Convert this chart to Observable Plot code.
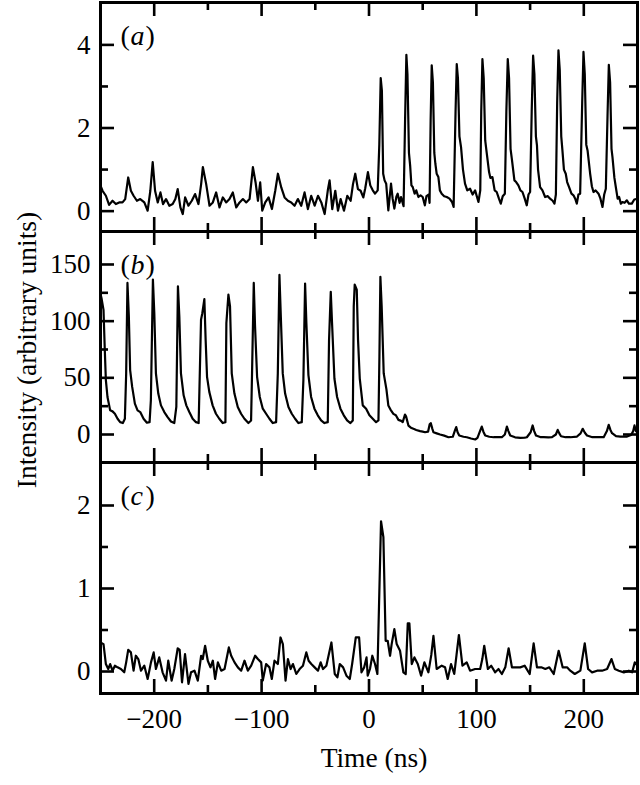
<!DOCTYPE html>
<html><head><meta charset="utf-8">
<script src="https://cdn.jsdelivr.net/npm/d3@7"></script>
<script src="https://cdn.jsdelivr.net/npm/@observablehq/plot@0.6"></script>
<style>
html,body{margin:0;padding:0;background:#fff;}
#chart{position:relative;width:640px;height:785px;font-family:"Liberation Serif","Times New Roman",serif;}
#chart svg{position:absolute;left:0;overflow:visible;}
</style></head><body><div id="chart"></div>
<script>
// ---- shared axis values ----
const timeDomain = [-250, 250];
const timeMajorTicks = [-200, -100, 0, 100, 200];
const timeMinorTicks = [-150, -50, 50, 150];
const xTitle = "Time (ns)";
const yTitle = "Intensity (arbitrary units)";

// ---- panel (a): [time ns, intensity] ----
const seriesA = [
[-250,0.61],[-248.1,0.49],[-245,0.37],[-242,0.15],[-238.8,0.25],[-235.7,0.17],[-232.6,0.21],[-229.5,0.21],[-227,0.29],[-224.2,0.81],[-221.7,0.49],[-219.2,0.37],[-216.1,0.25],[-213,0.29],[-209.2,0.21],[-206.1,0.01],[-203.6,0.49],[-201.4,1.18],[-199.2,0.49],[-196.7,0.21],[-194.2,0.45],[-191.8,0.17],[-189,0.29],[-185.9,0.13],[-182.8,0.17],[-180.3,0.29],[-178.1,0.53],[-175.6,0.09],[-173.4,-0.07],[-171.2,0.33],[-168.1,0.13],[-165,0.25],[-161.9,0.41],[-158.8,0.17],[-156.3,0.65],[-154.7,1.06],[-151.6,0.65],[-148.5,0.13],[-145.4,0.21],[-142.3,0.45],[-139.2,0.09],[-136.1,0.33],[-133,0.21],[-129.9,0.29],[-126.8,0.45],[-123.6,0.09],[-120.5,0.21],[-117.4,0.29],[-114.3,0.21],[-111.2,0.29],[-108.1,1.06],[-105.6,0.69],[-103.4,0.25],[-101.3,0.69],[-99.4,0.01],[-96.6,0.21],[-93.5,0.33],[-90.4,0.05],[-87.3,0.49],[-84.8,0.9],[-81.7,0.57],[-78.6,0.33],[-75.5,0.25],[-72.4,0.21],[-69.3,0.13],[-66.2,0.29],[-63.1,0.13],[-60,0.45],[-56.9,0.05],[-53.8,0.37],[-50.6,0.13],[-47.5,0.37],[-44.4,0.21],[-41.3,-0.07],[-38.2,0.53],[-36.7,0.74],[-34.2,0.05],[-31.4,0.49],[-28.9,0.01],[-26.4,0.29],[-23.3,0.01],[-20.2,0.37],[-17.1,0.25],[-14.9,0.65],[-12.8,0.9],[-10.3,0.53],[-7.8,0.49],[-5.3,0.33],[-3.5,0.55],[-1,0.94],
[1.2,0.62],[3.5,0.5],[5.6,0.42],[8.1,0.5],[9.6,1.6],[10.9,3.2],[12.0,2.9],[13.2,0.9],[14.5,0.74],[16,0.66],[18,0.02],[20.5,0.66],[22,0.3],[23.6,0.06],[25.5,0.35],[26.7,0.42],[28.5,0.2],[29.8,0.34],[32.2,0.12],[33.6,2.2],[34.8,3.76],[35.8,3.3],[37.2,1.4],[38.3,1.1],[39.5,0.62],[40.7,0.58],[42.5,0.42],[44,0.5],[46,0.34],[48,0.38],[50,0.34],[52,0.14],[53.5,0.36],[55.5,0.4],[56.4,0.2],[57.4,2.2],[58.4,3.51],[59.5,3.1],[60.8,1.4],[61.8,1.14],[63,0.9],[64.6,0.82],[66,0.5],[67.7,0.42],[70,0.36],[72.4,0.34],[75,0.3],[77.3,0.22],[78.8,0.1],[80.6,2.4],[81.7,3.54],[82.8,3.2],[84.2,1.8],[85.7,1.54],[87.5,1.0],[89.4,0.66],[91.5,0.5],[94.1,0.54],[96.5,0.4],[98.8,0.5],[101.9,0.22],[103.6,0.5],[104.5,2.4],[105.6,3.66],[106.8,3.2],[108.2,1.7],[109.6,1.4],[111.8,0.94],[113,0.8],[114.9,0.82],[117,0.5],[118.9,0.46],[121,0.3],[122.7,0.18],[124.5,0.36],[126.5,0.42],[127.9,2.4],[129.2,3.66],[130.4,3.2],[131.8,1.5],[133,1.26],[135.4,0.74],[137,0.7],[139.1,0.62],[141,0.5],[142.9,0.46],[145,0.3],[146.9,0.14],[148.5,0.4],[150,0.46],[151.5,2.4],[152.8,3.74],[154,3.3],[155.4,1.8],[156.4,1.58],[157.4,1.0],[159.3,0.58],[161.5,0.5],[164,0.34],[166.5,0.36],[168.6,0.3],[171,0.25],[172.7,0.18],[174,0.4],[175.2,2.6],[176.4,3.87],[177.6,3.4],[179,1.8],[180.1,1.46],[181.5,1.0],[183.2,0.9],[184.5,0.7],[186.3,0.58],[188.5,0.42],[190.4,0.38],[192,0.3],[193.5,0.18],[195,0.4],[196.6,0.42],[198.5,2.6],[199.7,3.83],[200.9,3.3],[202.3,1.6],[203.5,1.46],[205.9,0.9],[207.5,0.6],[209,0.46],[211,0.5],[213.7,0.42],[215.5,0.3],[217.4,0.1],[219,0.4],[220.5,0.54],[222.1,2.3],[223.3,3.52],[224.5,3.1],[225.8,1.5],[226.7,1.3],[228.5,0.8],[229.8,0.58],[231.5,0.3],[232.9,0.34],[234.5,0.18],[236,0.22],[238,0.2],[240.1,0.26],[242,0.18],[244.7,0.18],[247,0.28],[250,0.3]
];

// ---- panel (b) ----
const seriesB = [
[-250,124],[-249.1,120.4],[-247.2,110],[-246,74.6],[-245,47.9],[-243.5,33.1],[-241,21.3],[-238.8,20.4],[-236.6,18.3],[-234.1,13.9],[-231.7,10.9],[-229.2,10.1],[-227.3,13.9],[-226.1,53.9],[-224.9,133.7],[-223.6,104],[-222.4,56.8],[-220.5,42],[-218,27.2],[-215.5,21.3],[-213,19.8],[-209.9,13.9],[-206.8,10.4],[-204.3,10.9],[-203.1,30.2],[-201.2,136.7],[-199.9,107],[-198.4,53.9],[-196.2,36.1],[-193.7,25.7],[-190.6,19.8],[-187.5,15.4],[-184.4,11.5],[-181.3,10.1],[-179.4,24.3],[-177.9,130.8],[-176.6,104],[-175.1,53.9],[-172.6,34.6],[-170.1,25.7],[-167.3,19.8],[-164.2,13.9],[-161.1,10.9],[-158.6,10.1],[-156.4,101.2],[-155.2,107],[-153.3,119.5],[-152.1,83.4],[-150.8,50.9],[-148.7,37.6],[-145.6,25.7],[-142.5,18.3],[-139.4,13.9],[-136.2,10.1],[-133.7,10.9],[-132.8,98.2],[-130.9,123.4],[-129.4,113],[-127.8,53.9],[-125.3,36.1],[-122.2,24.3],[-119.1,18.3],[-116,13.9],[-112.3,10.1],[-109.8,12.4],[-108.9,53.9],[-107.3,133.7],[-106.1,95.3],[-104.2,50.9],[-101.7,33.1],[-98.9,22.8],[-95.8,18.3],[-92.7,13.9],[-89.6,10.1],[-86.5,10.9],[-84.9,53.9],[-83.4,140.8],[-82.1,104],[-80.3,53.9],[-78.1,36.1],[-75,24.3],[-71.9,18.3],[-68.8,13.9],[-65.7,10.1],[-62.6,10.9],[-61.1,47.9],[-59.5,133.2],[-58.3,98.2],[-56.4,52.4],[-53.9,33.1],[-50.8,22.8],[-47.7,16.9],[-44.6,12.4],[-41.5,10.1],[-38.4,10.9],[-37.2,83.4],[-35.6,125.8],[-34.4,98.2],[-32.2,49.4],[-29.7,33.1],[-26.6,22.8],[-23.5,16.9],[-20.4,12.4],[-17.3,10.1],[-15.1,12.4],[-14.2,113],[-13.3,132.3],[-11.4,127.8],[-10.2,83.4],[-8.6,49.4],[-5.8,25.7],[-2.7,22.8],[0.4,16.9],[3.5,13.9],[6.6,10.9],[8.8,12.4],[9.7,68.6],[10.6,139.1],[11.8,113],[13.7,53.9],[16.2,40],[18,25.6],[20,22],[22.7,18.2],[25,17],[27.4,12.9],[30,12],[31.4,10.9],[33.5,17.6],[34.5,16],[36.7,7.9],[39,6],[41.4,5],[44,4],[47.6,3],[50,2.5],[52.2,2],[55,2.5],[56.5,9],[57.5,10],[59,5],[60,2],[63,1],[66.2,0],[70,-1],[74,-2.4],[78,-2],[80.2,4],[81.2,6.5],[82.5,2],[84,-0.9],[88,-2],[91.1,-2.4],[95,-3.5],[98.9,-4.4],[101,-3],[103.8,4],[105,7],[106.5,2.5],[108.2,-0.9],[112,-2],[116,-2.4],[120,-2.4],[123.7,-2.4],[126.5,0],[128.4,7],[129.8,3],[131.5,-0.9],[136,-2.5],[140.9,-3],[145,-2.8],[147,-2.4],[150.5,2],[152.4,8],[153.8,3],[155.5,-0.9],[160,-2.4],[162.7,-2.4],[167,-2.5],[170.4,-2.4],[174,0],[175.7,4.1],[177.2,1],[178.8,-1.5],[183,-2.4],[187.5,-2.4],[193.7,-1.8],[197,1],[199,5],[201,1.5],[203,-0.9],[208,-2.4],[212.3,-2.4],[218.5,-2.4],[221.5,3],[223.2,8.5],[224.8,4],[226.3,1.2],[230,-1.5],[234,-1.8],[240.3,-1.8],[244,-0.5],[246,3],[247.2,8],[248.5,3],[250,2]
];

// ---- panel (c) ----
const seriesC = [
[-250,0.35],[-247.2,0.33],[-245,0.09],[-242.8,0.03],[-241,0.09],[-238.8,0.01],[-236.6,0.07],[-234.1,0.05],[-231,0.03],[-227.9,-0.01],[-226.1,0.11],[-224.2,0.26],[-221.7,0.23],[-219.2,0.01],[-217.1,0.19],[-214.8,0.15],[-212.3,0.01],[-209.2,0.07],[-206.1,-0.09],[-203,0.11],[-200.5,0.23],[-198.4,0.03],[-195.3,0.17],[-192.2,-0.01],[-189,-0.11],[-186.9,0.13],[-183.8,-0.11],[-181.3,0.03],[-178.1,0.28],[-176.3,0.26],[-174.1,-0.13],[-171.3,0.21],[-168.1,-0.15],[-165.7,-0.01],[-162.5,0.01],[-159.4,-0.11],[-156.3,0.19],[-154.8,0.15],[-152.6,0.31],[-150.1,0.13],[-147.6,0.05],[-145.4,0.13],[-143.3,-0.09],[-140.7,0.11],[-137.6,0.01],[-134.5,0.03],[-130.5,0.29],[-128.3,0.19],[-125.2,0.11],[-122.1,0.05],[-119,0.01],[-115.9,0.13],[-112.8,0.01],[-109.7,0.07],[-106,0.19],[-103.5,0.15],[-100.4,0.11],[-98.9,-0.11],[-95.8,0.09],[-92.7,0.05],[-90.5,-0.09],[-88,0.13],[-84.9,0.09],[-82.4,0.41],[-80.2,0.33],[-77.7,-0.11],[-75.5,0.15],[-73,0.03],[-70.8,0.09],[-67.7,-0.03],[-64.6,0.03],[-61.5,0.07],[-58.4,0.23],[-56.2,0.13],[-53.7,0.09],[-50.6,0.05],[-47.5,0.01],[-45,0.11],[-42.8,0.03],[-39.7,0.07],[-35,0.35],[-31.9,-0.03],[-29.4,-0.07],[-27.2,0.09],[-24.1,0.05],[-21,-0.05],[-17.9,-0.09],[-15.7,0.09],[-12.3,0.41],[-9.2,0.41],[-7,-0.01],[-4.5,0.05],[-2.3,0.17],
[-1.2,-0.05],[0.9,0.03],[3.1,0.19],[5.6,0.09],[7.8,-0.03],[9.3,0.78],[11.2,1.81],[13.4,1.62],[15.5,0.37],[17.4,0.37],[19.6,0.19],[21.1,0.33],[23.6,0.51],[25.8,0.33],[28.9,0.25],[32,-0.01],[34.2,-0.03],[36.1,0.58],[37.6,0.58],[39.8,0.09],[42.3,0.17],[45.4,0.09],[48.5,-0.05],[51.6,0.11],[55.3,-0.01],[58,0.2],[60,0.43],[63,0.03],[67.7,0.07],[70.8,0.05],[73.3,-0.09],[76.4,0.09],[79.4,-0.03],[81.5,0.2],[83.7,0.44],[87,0.07],[91,0.11],[94.1,0.01],[98.8,0.03],[103.5,0.03],[105.5,0.15],[107.3,0.31],[110.7,0.03],[113.8,0.07],[117.5,-0.01],[120.6,0.03],[123.7,-0.03],[126.9,0.05],[130,0.28],[133.1,0.05],[136.8,0.05],[140.8,0.05],[144.9,0.07],[149.6,-0.03],[153.3,0.34],[156.4,0.05],[160.4,0.05],[164.2,0.03],[167.9,0.05],[172,-0.03],[176.6,0.25],[180.3,0.05],[184.4,0.05],[187.4,0.01],[191.6,-0.03],[196.8,0.01],[200.9,0.34],[204,0.03],[207.7,-0.01],[212.4,0.01],[217,0.01],[221.7,0.03],[225.8,0.15],[228.9,0.03],[232.6,0.01],[237.3,-0.01],[241.9,0.01],[245,-0.01],[247.5,0.11],[250,0.07]
];

// ---- per-panel y ticks, domains and labels ----
const yMajorA = [0, 2, 4], yMinorA = [1, 3], yDomainA = [-0.49, 5.02];
const yMajorB = [0, 50, 100, 150], yMinorB = [25, 75, 125], yDomainB = [-24.7, 179.1];
const yMajorC = [0, 1, 2], yMinorC = [0.5, 1.5], yDomainC = [-0.265, 2.518];
const panelLetters = ["a", "b", "c"];

const FONT = "Liberation Serif";
const fmt = d => d < 0 ? "\u2212" + Math.abs(d) : String(d);

const panels = [
  {series: seriesA, domain: yDomainA, major: yMajorA, minor: yMinorA, letter: panelLetters[0], top: 0, H: 229, bottom: false},
  {series: seriesB, domain: yDomainB, major: yMajorB, minor: yMinorB, letter: panelLetters[1], top: 229, H: 231, bottom: false, yTitle: true},
  {series: seriesC, domain: yDomainC, major: yMajorC, minor: yMinorC, letter: panelLetters[2], top: 460, H: 231, bottom: true}
];

const W = 537, ML = 100, MR = 3, MT = 2;
const chart = document.getElementById("chart");
const black = "#000";

for (const p of panels) {
  const H = p.H;
  const MB = p.bottom ? 92 : 2;
  const data = p.series.map(([t, v]) => ({t, v}));
  const ticks = (vals, len, side) => {
    const o = {stroke: black, strokeWidth: 2.6};
    if (side === "bottom") return Plot.tickX(vals, {...o, x: d => d, insetTop: H - len});
    if (side === "top") return Plot.tickX(vals, {...o, x: d => d, insetBottom: H - len});
    if (side === "left") return Plot.tickY(vals, {...o, y: d => d, insetRight: W - len});
    return Plot.tickY(vals, {...o, y: d => d, insetLeft: W - len});
  };
  const marks = [
    Plot.line(data, {x: "t", y: "v", stroke: black, strokeWidth: 2.2, strokeLinejoin: "round", clip: true}),
    ticks(timeMajorTicks, 14, "bottom"), ticks(timeMinorTicks, 8, "bottom"),
    ticks(timeMajorTicks, 14, "top"), ticks(timeMinorTicks, 8, "top"),
    ticks(p.major, 14, "left"), ticks(p.minor, 8, "left"),
    ticks(p.major, 14, "right"), ticks(p.minor, 8, "right"),
    Plot.axisY(p.major, {tickSize: 0, tickPadding: 10, fontSize: 27, label: null, tickFormat: fmt}),
    Plot.frame({stroke: black, strokeWidth: 3}),
    Plot.text(["("], {frameAnchor: "top-left", dx: 20, dy: 23, lineAnchor: "top", textAnchor: "start", fontSize: 28, fill: black}),
    Plot.text([p.letter], {frameAnchor: "top-left", dx: 30, dy: 23, lineAnchor: "top", textAnchor: "start", fontSize: 28, fontStyle: "italic", fill: black}),
    Plot.text([")"], {frameAnchor: "top-left", dx: 45, dy: 23, lineAnchor: "top", textAnchor: "start", fontSize: 28, fill: black})
  ];
  if (p.yTitle) {
    marks.push(Plot.text([yTitle], {frameAnchor: "left", dx: -73, dy: 3, rotate: -90, textAnchor: "middle", lineAnchor: "middle", fontSize: 27.5, fill: black}));
  }
  if (p.bottom) {
    marks.push(Plot.axisX(timeMajorTicks, {tickSize: 0, tickPadding: 15, fontSize: 27, label: null, tickFormat: fmt}));
    marks.push(Plot.text([xTitle], {frameAnchor: "bottom", dx: 5, dy: 54, lineAnchor: "top", textAnchor: "middle", fontSize: 27.5, fill: black}));
  }
  const svg = Plot.plot({
    width: 640, height: MT + H + MB,
    marginLeft: ML, marginRight: MR, marginTop: MT, marginBottom: MB,
    style: {fontFamily: FONT, fontSize: "26px", background: "transparent", overflow: "visible", color: black},
    x: {domain: timeDomain, axis: null, label: null},
    y: {domain: p.domain, axis: null, label: null},
    marks
  });
  svg.style.top = p.top + "px";
  chart.appendChild(svg);
}
</script></body></html>
